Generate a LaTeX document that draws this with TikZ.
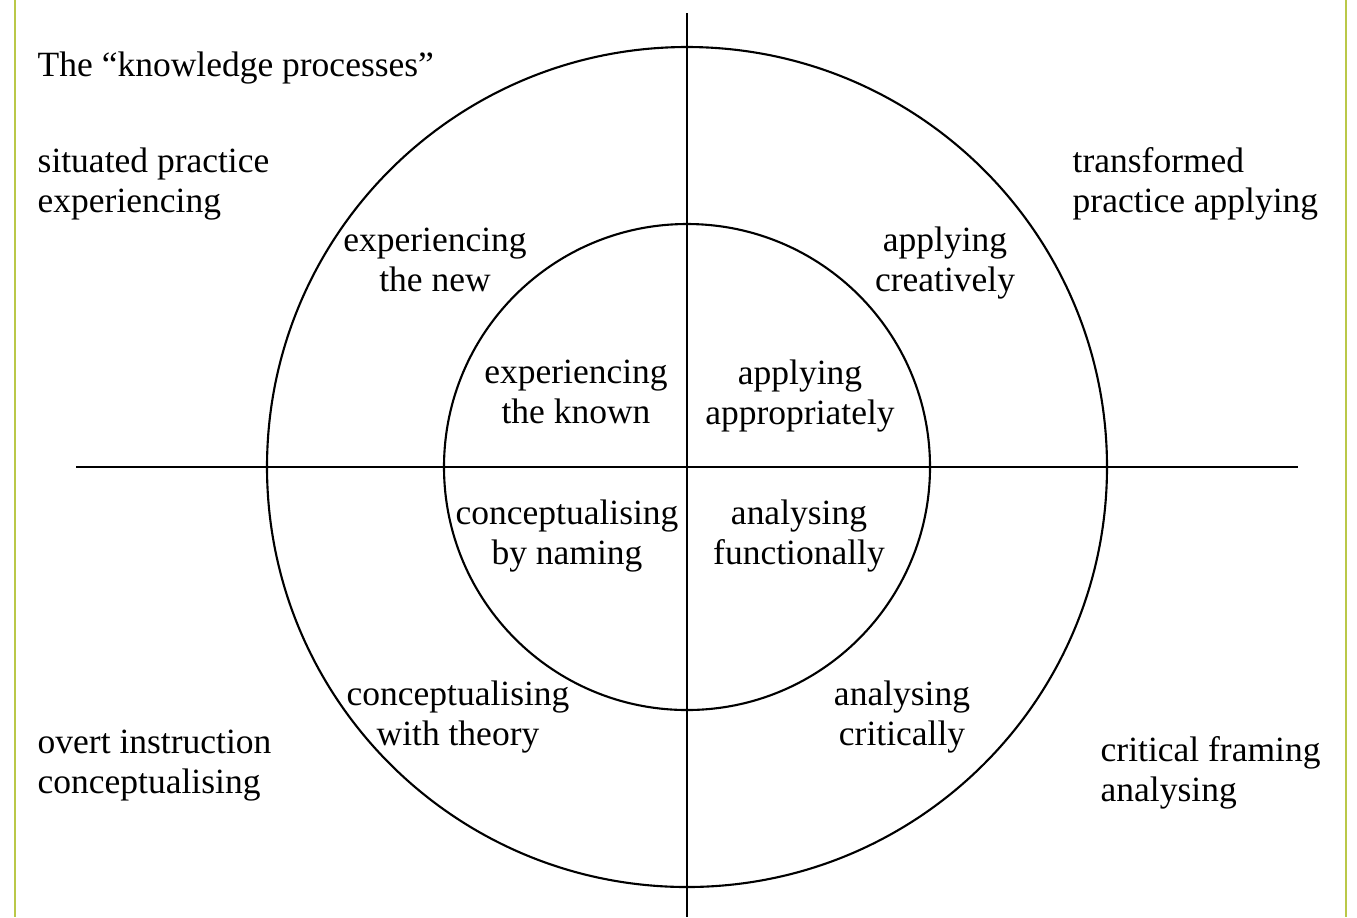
\documentclass[tikz,border=0pt]{standalone}
\usepackage{fontspec}
\setmainfont{Liberation Serif}
\definecolor{framegreen}{RGB}{186,200,72}
\tikzset{
	ring/.style={draw=black,line width=0.6pt,circle,inner sep=0pt},
	axis/.style={draw=black,line width=0.6pt},
	lbl/.style={align=center,inner sep=0pt,font=\fontsize{10.1}{11.4}\selectfont},
	lbll/.style={align=left,inner sep=0pt,font=\fontsize{10.1}{11.4}\selectfont}
}
\begin{document}
\begin{tikzpicture}
	\useasboundingbox (0,0) rectangle (13.57,-9.17);
% frame
	\draw[framegreen,line width=0.75pt] (0.15,0) -- (0.15,-9.17);
	\draw[framegreen,line width=0.75pt] (13.46,0) -- (13.46,-9.17);

% circles
	\coordinate (c) at (6.87,-4.67);
	\node[ring,minimum size=8.4cm] (outer) at (c) {};
	\node[ring,minimum size=4.86cm] (inner) at (c) {};

% axes
	\coordinate (top) at (6.87,-0.13);
	\coordinate (bot) at (6.87,-9.17);
	\coordinate (left) at (0.76,-4.67);
	\coordinate (right) at (12.98,-4.67);
	\draw[axis] (top) -- (bot);
	\draw[axis] (left) -- (right);

% corner labels
	\node[lbll,anchor=west] (title) at (0.37,-0.68) {The “knowledge processes”};
	\node[lbll,anchor=west] (situated) at (0.37,-1.84) {situated practice\\experiencing};
	\node[lbll,anchor=west] (transformed) at (10.72,-1.84) {transformed\\practice applying};
	\node[lbll,anchor=west] (overt) at (0.37,-7.66) {overt instruction\\conceptualising};
	\node[lbll,anchor=west] (critical) at (11.0,-7.73) {critical framing\\analysing};

% outer ring labels
	\node[lbl] (expnew) at (4.35,-2.6) {experiencing\\the new};
	\node[lbl] (appcre) at (9.45,-2.63) {applying\\creatively};
	\node[lbl] (contheo) at (4.58,-7.17) {conceptualising\\with theory};
	\node[lbl] (anacri) at (9.02,-7.17) {analysing\\critically};

% inner ring labels
	\node[lbl] (expknown) at (5.76,-3.92) {experiencing\\the known};
	\node[lbl] (appapp) at (8.0,-3.96) {applying\\appropriately};
	\node[lbl] (conname) at (5.67,-5.36) {conceptualising\\by naming};
	\node[lbl] (anafun) at (7.99,-5.36) {analysing\\functionally};
\end{tikzpicture}
\end{document}
